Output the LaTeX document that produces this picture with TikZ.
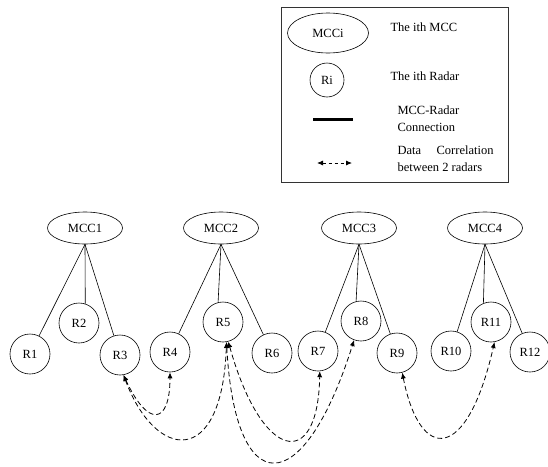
\documentclass[tikz,border=0pt]{standalone}
\usepackage{fontspec}
\setmainfont{Liberation Serif}
\usetikzlibrary{shapes.geometric,arrows.meta}

\begin{document}
\begin{tikzpicture}[x=1pt, y=-1pt,
    font=\fontsize{12.5}{17}\selectfont,
    mcc/.style={ellipse, draw, line width=0.6pt, minimum width=75pt, minimum height=32pt, inner sep=0pt},
    radar/.style={circle, draw, line width=0.6pt, minimum size=40pt, inner sep=0pt},
    link/.style={line width=0.6pt},
    corr/.style={line width=0.8pt, dash pattern=on 5pt off 3pt, {Latex[length=6pt,width=5pt]}-{Latex[length=6pt,width=5pt]}}]
    \useasboundingbox (0,0) rectangle (548,466);
    % Legend
    \draw[line width=0.8pt, black!80] (281,7) rectangle (508,182);
    \node[mcc, minimum width=81pt, minimum height=40pt] (keymcc) at (328,33) {MCCi};
    \node[radar, minimum size=34pt] (keyradar) at (327,80) {Ri};
    \coordinate (keyla) at (313,119);
    \coordinate (keylb) at (353,119);
    \coordinate (keyca) at (317,163);
    \coordinate (keycb) at (352,163);
    \draw[line width=3pt] (keyla) -- (keylb);
    \draw[corr, dash pattern=on 3pt off 3pt] (keyca) -- (keycb);
    \node[anchor=west] (txtmcc) at (387,27) {The ith MCC};
    \node[anchor=west] (txtradar) at (387,76) {The ith Radar};
    \node[anchor=west, align=left] (txtlink) at (394,119) {MCC-Radar\\Connection};
    \node[anchor=west, align=left] (txtcorr) at (394,159) {\makebox[96pt][s]{Data Correlation}\\between 2 radars};
    % MCCs
    \node[mcc] (mcc1) at (85,228) {MCC1};
    \node[mcc] (mcc2) at (221,228) {MCC2};
    \node[mcc] (mcc3) at (359,228) {MCC3};
    \node[mcc] (mcc4) at (485,228) {MCC4};
    % Radars
    \node[radar] (r1) at (30,354) {R1};
    \node[radar] (r2) at (79,323) {R2};
    \node[radar] (r3) at (120,355) {R3};
    \node[radar] (r4) at (170,352) {R4};
    \node[radar] (r5) at (223,322) {R5};
    \node[radar] (r6) at (272,353) {R6};
    \node[radar] (r7) at (318,351) {R7};
    \node[radar] (r8) at (361,321) {R8};
    \node[radar] (r9) at (397,353) {R9};
    \node[radar] (r10) at (451,351) {R10};
    \node[radar] (r11) at (491,322) {R11};
    \node[radar] (r12) at (530,352) {R12};
    % Connections
    \draw[link] (mcc1.south) -- (r1);
    \draw[link] (mcc1.south) -- (r2.72);
    \draw[link] (mcc1.south) -- (r3);
    %
    \draw[link] (mcc2.south) -- (r4);
    \draw[link] (mcc2.south) -- (r5.104);
    \draw[link] (mcc2.south) -- (r6);
    %
    \draw[link] (mcc3.south) -- (r7);
    \draw[link] (mcc3.south) -- (r8.104);
    \draw[link] (mcc3.south) -- (r9);
    %
    \draw[link] (mcc4.south) -- (r10);
    \draw[link] (mcc4.south) -- (r11.112);
    \draw[link] (mcc4.south) -- (r12);
    % Correlations
    \draw[corr] (r3.-80) .. controls (148,428) and (170,425) .. (r4.south);
    \draw[corr] (r3.-80) .. controls (155,460) and (222,470) .. (r5.-80);
    \draw[corr] (r5.-75) .. controls (262,462) and (318,472) .. (r7.-85);
    \draw[corr] (r5.-80) .. controls (235,502) and (303,502) .. (r8.-110);
    \draw[corr] (r9.-75) .. controls (420,463) and (467,463) .. (r11.-80);
\end{tikzpicture}
\end{document}
